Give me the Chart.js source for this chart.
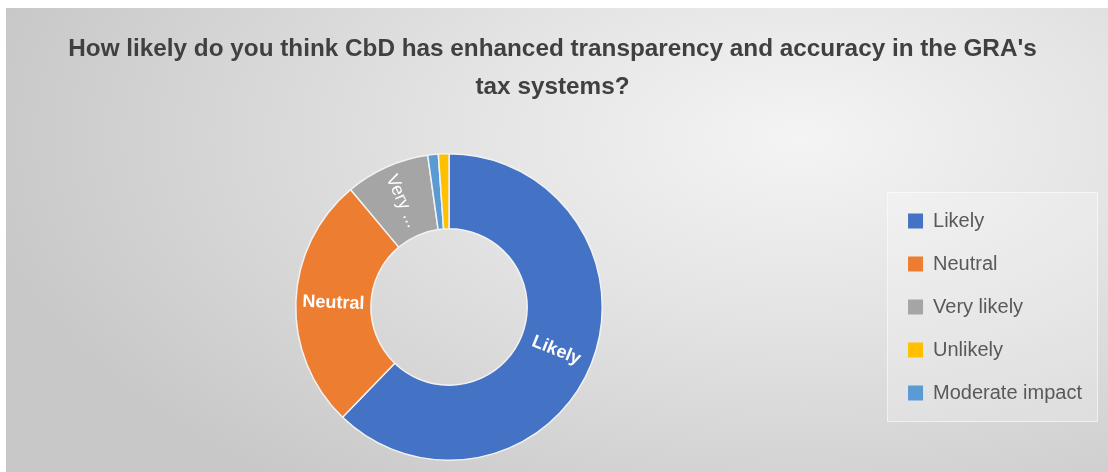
<!DOCTYPE html>
<html>
<head>
<meta charset="utf-8">
<script src="https://cdn.jsdelivr.net/npm/chart.js@4.4.1/dist/chart.umd.min.js"></script>
<style>
  html, body { margin: 0; padding: 0; background: #fff; }
  #bg {
    position: absolute; left: 6px; top: 8px; width: 1102px; height: 464px;
    background: radial-gradient(ellipse 75% 95% at 72% 28%, #f4f4f4 0%, #e4e4e4 40%, #c8c8c8 100%);
  }
  #wrap { position: absolute; left: 0; top: 0; width: 1108px; height: 472px; }
</style>
</head>
<body>
<div id="bg"></div>
<div id="wrap"><canvas id="myChart"></canvas></div>
<script>
// slices, clockwise from 12 o'clock as in the picture
const categories = ['Likely', 'Neutral', 'Very likely', 'Moderate impact', 'Unlikely'];
const responses = [56, 24, 8, 1, 1];
const sliceColors = ['#4472C4', '#ED7D31', '#A5A5A5', '#5B9BD5', '#FFC000'];
const sliceLabels = ['Likely', 'Neutral', 'Very ...', '', ''];
const legendOrder = ['Likely', 'Neutral', 'Very likely', 'Unlikely', 'Moderate impact'];
const titleLines = ["How likely do you think CbD has enhanced transparency and accuracy in the GRA's", 'tax systems?'];

const sliceText = {
  id: 'sliceText',
  afterDatasetsDraw(chart) {
    const ctx = chart.ctx;
    const meta = chart.getDatasetMeta(0);
    meta.data.forEach(function(arc, i) {
      if (!sliceLabels[i]) return;
      const p = arc.getProps(['x', 'y', 'startAngle', 'endAngle', 'innerRadius', 'outerRadius'], true);
      const mid = (p.startAngle + p.endAngle) / 2;
      const r = (p.innerRadius + p.outerRadius) / 2;
      let rot = mid;
      if (Math.cos(rot) < 0) rot += Math.PI;
      ctx.save();
      ctx.translate(p.x + Math.cos(mid) * r, p.y + Math.sin(mid) * r);
      ctx.rotate(rot);
      ctx.fillStyle = '#ffffff';
      ctx.font = (i == 2 ? '' : 'bold ') + '18px "Liberation Sans", Arial, sans-serif';
      ctx.textAlign = 'center';
      ctx.textBaseline = 'middle';
      ctx.fillText(sliceLabels[i], 0, 0);
      ctx.restore();
    });
  }
};

const legendBox = {
  id: 'legendBox',
  beforeDraw(chart) {
    const boxes = chart.legend.legendHitBoxes;
    if (!boxes || !boxes.length) return;
    const top = Math.min.apply(null, boxes.map(b => b.top)) - 19;
    const bottom = Math.max.apply(null, boxes.map(b => b.top + b.height)) + 19;
    const left = Math.min.apply(null, boxes.map(b => b.left)) - 21;
    const right = chart.width - 10;
    const ctx = chart.ctx;
    ctx.save();
    ctx.fillStyle = 'rgba(255,255,255,0.22)';
    ctx.strokeStyle = 'rgba(255,255,255,0.55)';
    ctx.lineWidth = 1;
    ctx.fillRect(left, top, right - left, bottom - top);
    ctx.strokeRect(left + 0.5, top + 0.5, right - left - 1, bottom - top - 1);
    ctx.restore();
  }
};

const data = {
  labels: categories,
  datasets: [{
    data: responses,
    backgroundColor: sliceColors,
    borderColor: '#f2f2f2',
    borderWidth: 1.5
  }]
};

const config = {
  type: 'doughnut',
  data: data,
  options: {
    responsive: true,
    maintainAspectRatio: false,
    animation: false,
    cutout: '51%',
    layout: { padding: { top: 8, left: 13, right: 16, bottom: 11 } },
    plugins: {
      tooltip: { enabled: false },
      title: {
        display: true,
        text: titleLines,
        color: '#404040',
        font: { family: '"Liberation Sans", Arial, sans-serif', size: 24.3, weight: 'bold', lineHeight: 38 / 24.3 },
        padding: { top: 22, bottom: 47 }
      },
      legend: {
        position: 'right',
        align: 'center',
        fullSize: false,
        labels: {
          color: '#595959',
          font: { family: '"Liberation Sans", Arial, sans-serif', size: 20 },
          boxWidth: 15,
          boxHeight: 15,
          padding: 23,
          sort: (a, b) => legendOrder.indexOf(a.text) - legendOrder.indexOf(b.text),
          generateLabels(chart) {
            return Chart.overrides.doughnut.plugins.legend.labels.generateLabels(chart).map(function(l) {
              l.strokeStyle = 'rgba(0,0,0,0)';
              l.lineWidth = 0;
              return l;
            });
          }
        }
      }
    }
  },
  plugins: [legendBox, sliceText]
};

const myChart = new Chart(document.getElementById('myChart'), config);
</script>
</body>
</html>
